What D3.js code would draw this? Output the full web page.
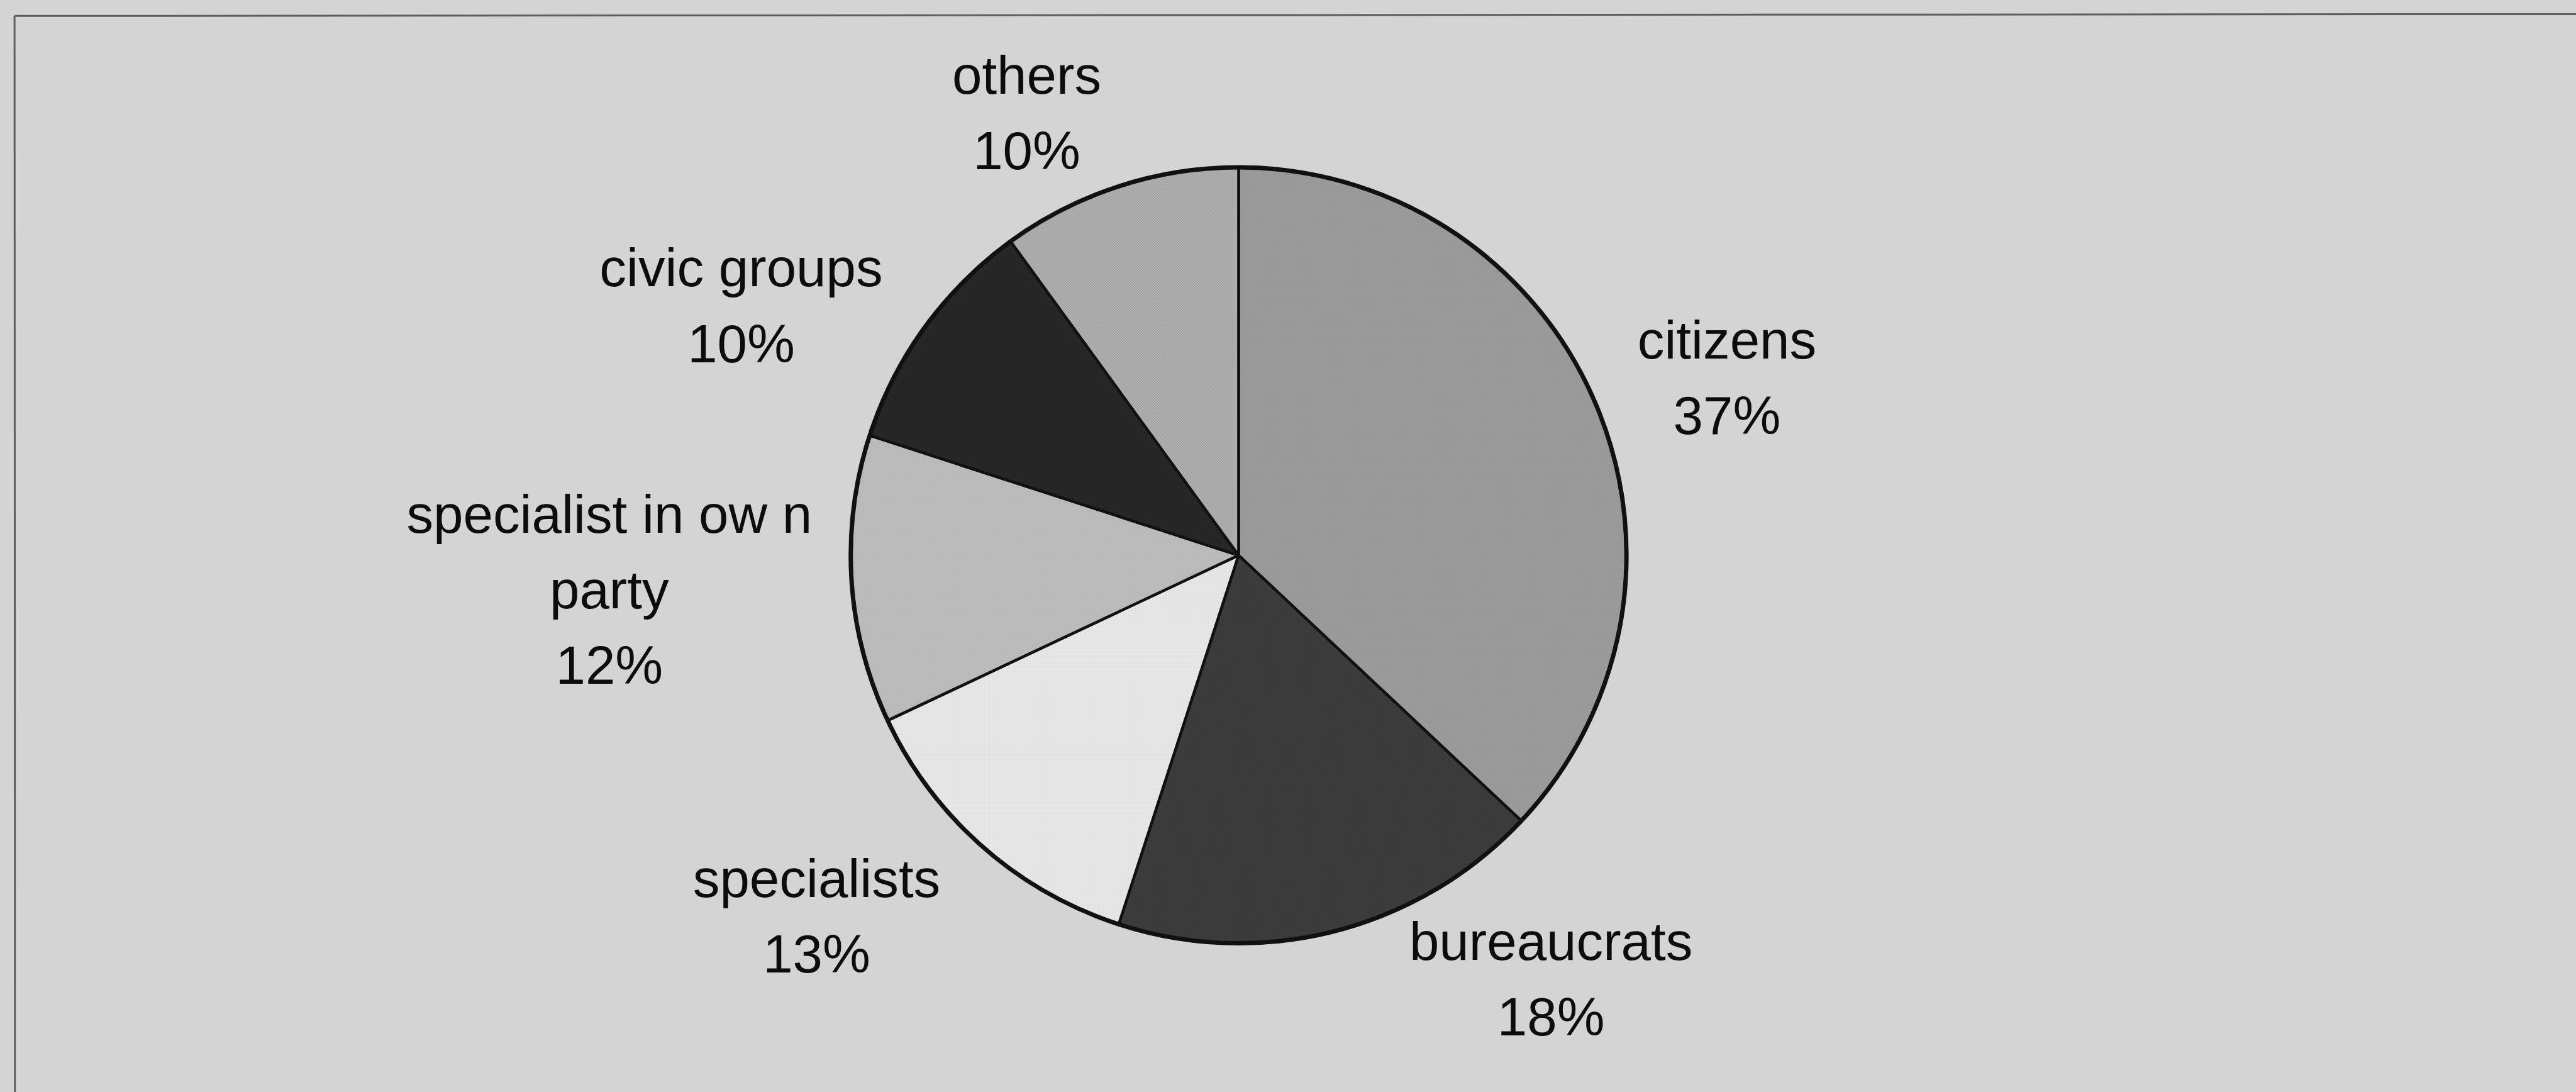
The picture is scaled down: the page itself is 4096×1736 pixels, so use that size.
<!DOCTYPE html>
<html>
<head>
<meta charset="utf-8">
<script src="https://cdn.jsdelivr.net/npm/d3@7"></script>
<style>
  html, body { margin: 0; padding: 0; background: #d4d4d4; }
  svg { display: block; }
</style>
</head>
<body>
<svg id="chart" width="4096" height="1736"></svg>
<script>
// Who respondents consult: shares of each group (per cent)
const categories = ["citizens", "bureaucrats", "specialists", "specialist in own party", "civic groups", "others"];
const shares = [37, 18, 13, 12, 10, 10];
// Label text as printed beside each slice (name lines, then the share)
const labelLines = [
  ["citizens"],
  ["bureaucrats"],
  ["specialists"],
  ["specialist in ow n", "party"],
  ["civic groups"],
  ["others"]
];

// ---- layout (drawing units are the 5665-wide original, scaled down) ----
const S = 0.723;
const W = 4096, H = 1736;
const cx = 2724 * S, cy = 1221 * S, R = 853 * S;
const fontSize = 118 * S;
const lineStep = 166 * S;

// centre x and first baseline y of each label block
const labelAt = {
  "citizens":                [3798, 788],
  "bureaucrats":             [3411, 2110],
  "specialists":             [1796, 1972],
  "specialist in own party": [1340, 1172],
  "civic groups":            [1630, 630],
  "others":                  [2258, 206]
};

// grey fills with a fine print texture, one per slice
const fills = {
  "citizens":                { base: "#9d9d9d", ink: "#7e7e7e", kind: "dots" },
  "bureaucrats":             { base: "#383838", ink: "#545454", kind: "dots" },
  "specialists":             { base: "#e6e6e6", ink: "#d2d2d2", kind: "grid" },
  "specialist in own party": { base: "#bdbdbd", ink: "#a4a4a4", kind: "dots" },
  "civic groups":            { base: "#242424", ink: "#383838", kind: "dots" },
  "others":                  { base: "#b4b4b4", ink: "#8c8c8c", kind: "diag" }
};

const svg = d3.select("#chart");

svg.append("rect").attr("width", W).attr("height", H).attr("fill", "#d4d4d4");

// page frame: top and left rule
svg.append("line")
  .attr("x1", 32 * S).attr("y1", 35 * S).attr("x2", W).attr("y2", 31 * S)
  .attr("stroke", "#5e5e5e").attr("stroke-width", 3);
svg.append("line")
  .attr("x1", 32 * S).attr("y1", 35 * S).attr("x2", 33 * S).attr("y2", H)
  .attr("stroke", "#5e5e5e").attr("stroke-width", 3);

// texture patterns
const defs = svg.append("defs");
categories.forEach((c, i) => {
  const f = fills[c];
  const p = defs.append("pattern")
    .attr("id", "fill" + i)
    .attr("patternUnits", "userSpaceOnUse")
    .attr("width", 4).attr("height", 4);
  p.append("rect").attr("width", 4).attr("height", 4).attr("fill", f.base);
  if (f.kind === "dots") {
    p.append("rect").attr("x", 0).attr("y", 0).attr("width", 1).attr("height", 1).attr("fill", f.ink);
    p.append("rect").attr("x", 2).attr("y", 2).attr("width", 1).attr("height", 1).attr("fill", f.ink);
  } else if (f.kind === "grid") {
    p.append("rect").attr("x", 0).attr("y", 0).attr("width", 1).attr("height", 1).attr("fill", f.ink);
  } else if (f.kind === "diag") {
    p.append("path").attr("d", "M0,0 L4,4 M-1,3 L1,5 M3,-1 L5,1")
      .attr("stroke", f.ink).attr("stroke-width", 1);
  }
});

// pie, clockwise from twelve o'clock, in data order
const pie = d3.pie().sort(null).value(d => d.value);
const arcs = pie(categories.map((c, i) => ({ name: c, value: shares[i], idx: i })));
const arc = d3.arc().innerRadius(0).outerRadius(R);

const g = svg.append("g").attr("transform", `translate(${cx},${cy})`);
g.selectAll("path.slice")
  .data(arcs)
  .join("path")
  .attr("class", "slice")
  .attr("d", arc)
  .attr("fill", d => `url(#fill${d.data.idx})`)
  .attr("stroke", "#111")
  .attr("stroke-width", 4.5)
  .attr("stroke-linejoin", "round");

g.append("circle").attr("r", R).attr("fill", "none")
  .attr("stroke", "#111").attr("stroke-width", 7);

// labels: name line(s) then the share
const lab = svg.append("g")
  .attr("font-family", "'Liberation Sans', Arial, sans-serif")
  .attr("font-size", fontSize)
  .attr("fill", "#0c0c0c")
  .attr("text-anchor", "middle");

arcs.forEach(a => {
  const name = a.data.name;
  const [lx, ly] = labelAt[name];
  const lines = labelLines[a.data.idx].concat([a.data.value + "%"]);
  const t = lab.append("text").attr("x", lx * S).attr("y", ly * S);
  lines.forEach((ln, k) => {
    t.append("tspan").attr("x", lx * S).attr("y", ly * S + k * lineStep).text(ln);
  });
});
</script>
</body>
</html>
